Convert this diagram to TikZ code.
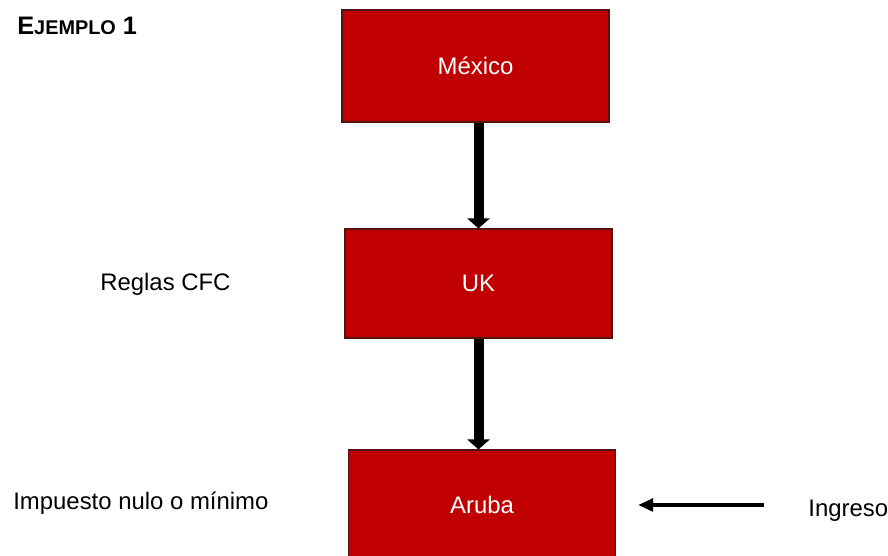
\documentclass[tikz,border=0pt]{standalone}
\usepackage{fontspec}
\setmainfont{Liberation Sans}
\usetikzlibrary{arrows.meta}
\definecolor{rojo}{RGB}{192,0,0}
\definecolor{borde}{RGB}{80,20,20}

\begin{document}
\begin{tikzpicture}[font=\fontsize{13.6}{16}\selectfont,
  caja/.style={rectangle, draw=borde, line width=0.6pt, fill=rojo, text=white, minimum width=5.34cm},
  texto/.style={inner sep=0pt, anchor=base west},
  flecha/.style={-{Triangle[width=0.44cm,length=0.2cm]}, line width=0.2cm},
  flechita/.style={-{Triangle[width=0.25cm,length=0.3cm]}, line width=0.08cm}]
\useasboundingbox (0,0) rectangle (17.76,11.12);
\path (0.34,10.42) node[texto](titulo) {\fontsize{14.4}{16}\selectfont\bfseries E{\fontsize{11.3}{12}\selectfont JEMPLO} 1}
(9.51,9.8) node[caja, minimum height=2.24cm](mexico) {México}
(9.57,5.45) node[caja, minimum height=2.18cm](uk) {UK}
(9.64,1.02) node[caja, minimum height=2.2cm](aruba) {Aruba}
(2.0,5.30) node[texto](reglas) {Reglas CFC}
(0.26,0.92) node[texto](impuesto) {Impuesto nulo o mínimo}
(16.16,0.78) node[texto](ingreso) {Ingreso};
\draw[flecha] (mexico.south -| uk) -- (uk.north);
\draw[flecha] (uk.south) -- (uk.south |- aruba.north);
\draw[flechita, shorten <=0.88cm, shorten >=0.44cm] (ingreso.west |- aruba.east) -- (aruba.east);
\end{tikzpicture}
\end{document}
